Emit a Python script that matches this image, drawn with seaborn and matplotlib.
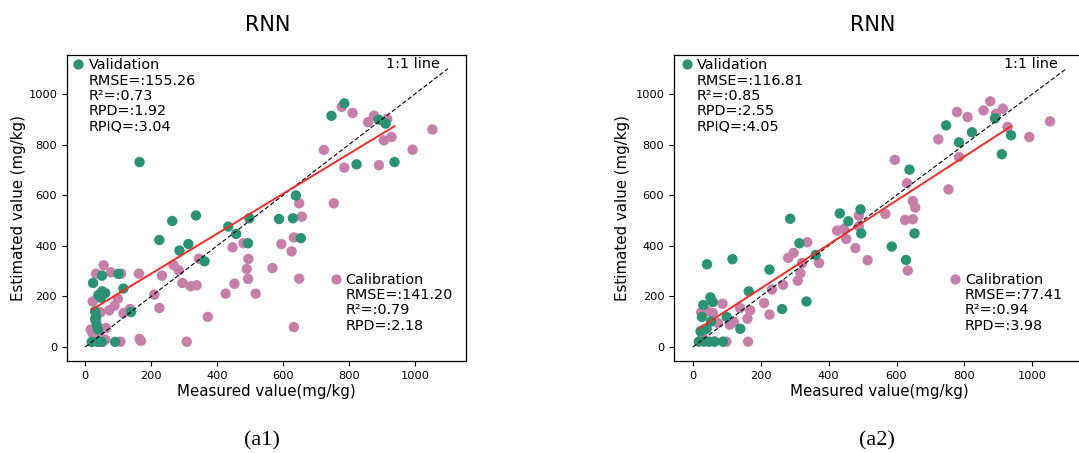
import numpy as np
import matplotlib
matplotlib.use("Agg")
import matplotlib.pyplot as plt
from matplotlib.lines import Line2D
import seaborn as sns

# ---------------- data ----------------
# Panel (a1): RNN
a1_val_measured = [165, 786, 747, 890, 911, 823, 938, 639, 588, 630, 498, 654, 494, 458, 434,
                   336, 264, 225, 313, 286, 362, 116, 101, 139, 24, 51, 43, 61, 52, 48, 40,
                   33, 35, 39, 30, 20, 38, 50, 91, 30]
a1_val_estimated = [731, 963, 914, 899, 883, 722, 731, 599, 506, 509, 509, 430, 410, 447, 476,
                    520, 498, 423, 407, 381, 339, 231, 289, 138, 253, 282, 207, 213, 220, 195, 205,
                    121, 88, 69, 141, 20, 20, 20, 20, 110]
a1_cal_measured = [778, 811, 858, 876, 916, 906, 929, 1053, 993, 891, 786, 724, 754, 649, 657,
                   633, 626, 649, 633, 595, 568, 517, 495, 490, 494, 480, 447, 453, 426, 372,
                   308, 345, 338, 320, 295, 284, 268, 233, 225, 210, 163, 165, 169, 107, 109,
                   78, 56, 33, 23, 99, 89, 73, 46, 116, 136, 17, 22, 61, 63, 43, 53, 33]
a1_cal_estimated = [949, 925, 889, 914, 901, 817, 830, 860, 780, 719, 709, 779, 568, 568, 515,
                    433, 378, 270, 79, 407, 312, 211, 348, 308, 269, 410, 394, 250, 211, 119,
                    21, 349, 244, 240, 253, 303, 324, 282, 154, 207, 290, 32, 24, 21, 290,
                    295, 323, 290, 180, 191, 163, 145, 137, 134, 150, 69, 55, 29, 75, 55, 21, 108]
a1_fit = [0.79, 131.6]          # slope, intercept of the fitted line
a1_val_stats = ["RMSE=:155.26", "R²=:0.73", "RPD=:1.92", "RPIQ=:3.04"]
a1_cal_stats = ["RMSE=:141.20", "R²=:0.79", "RPD=:2.18"]

# Panel (a2): RNN
a2_val_measured = [746, 822, 784, 890, 937, 910, 638, 494, 433, 458, 496, 653, 586, 628, 287,
                   314, 362, 335, 226, 263, 165, 117, 42, 52, 59, 31, 27, 100, 140, 54, 33,
                   23, 41, 18, 33, 48, 64, 89]
a2_val_estimated = [876, 849, 809, 904, 837, 762, 701, 544, 528, 497, 449, 449, 397, 344, 507,
                    410, 364, 180, 306, 150, 220, 347, 327, 196, 178, 166, 119, 119, 72, 101, 69,
                    62, 72, 21, 21, 21, 21, 21]
a2_cal_measured = [876, 856, 913, 893, 778, 809, 927, 1052, 991, 723, 784, 753, 595, 631, 648,
                   655, 625, 648, 633, 567, 515, 489, 479, 452, 425, 445, 489, 337, 372, 322,
                   297, 281, 317, 309, 266, 233, 210, 226, 169, 161, 163, 139, 121, 109, 88,
                   99, 25, 44, 74, 59, 28, 64]
a2_cal_estimated = [971, 935, 942, 922, 929, 909, 870, 892, 830, 821, 751, 623, 740, 647, 577,
                    551, 502, 505, 302, 526, 343, 519, 391, 427, 460, 466, 477, 414, 332, 332,
                    372, 352, 292, 262, 246, 227, 174, 128, 145, 112, 21, 154, 99, 88, 171,
                    21, 137, 141, 95, 134, 49, 22]
a2_fit = [0.87, 57.0]
a2_val_stats = ["RMSE=:116.81", "R²=:0.85", "RPD=:2.55", "RPIQ=:4.05"]
a2_cal_stats = ["RMSE=:77.41", "R²=:0.94", "RPD=:3.98"]

one_to_one = [0, 1100]
ticks = [0, 200, 400, 600, 800, 1000]

GREEN = "#2b9373"
PINK = "#c57fa9"

# ---------------- figure ----------------
fig = plt.figure(figsize=(10.79, 4.53), dpi=100)
plt.rcParams["font.family"] = ["DejaVu Sans"]


def draw_panel(ax, val_x, val_y, cal_x, cal_y, fit, val_stats, cal_stats,
               val_anchor, cal_anchor, ylpad):
    sns.scatterplot(x=cal_x, y=cal_y, color=PINK, s=56, edgecolor="none", ax=ax,
                    legend=False, zorder=2)
    sns.scatterplot(x=val_x, y=val_y, color=GREEN, s=56, edgecolor="none", ax=ax,
                    legend=False, zorder=3)
    ax.plot(one_to_one, one_to_one, ls=(0, (4, 2)), color="black", lw=0.8, zorder=4)
    fx = np.array([min(val_x), max(val_x)])
    ax.plot(fx, fit[0] * fx + fit[1], color="#ec2d27", lw=1.4, zorder=5)

    ax.set_xlim(-55, 1155)
    ax.set_ylim(-55, 1155)
    ax.set_xticks(ticks)
    ax.set_yticks(ticks)
    ax.tick_params(labelsize=8.2, length=3.5, width=0.8)
    ax.set_xlabel("Measured value(mg/kg)", fontsize=10.8, labelpad=2.5)
    ax.set_ylabel("Estimated value (mg/kg)", fontsize=10.8, labelpad=ylpad)
    for sp in ax.spines.values():
        sp.set_linewidth(0.9)

    blank = Line2D([], [], ls="none")
    h_val = [Line2D([], [], marker="o", ls="none", color=GREEN, markersize=7.4,
                    markeredgewidth=0)]
    leg1 = ax.legend(h_val + [blank] * len(val_stats), ["Validation"] + val_stats,
                     loc="upper left", bbox_to_anchor=val_anchor, frameon=False,
                     fontsize=10.4, labelspacing=0.09, handlelength=0.7,
                     handletextpad=0.35, borderpad=0.1, borderaxespad=0.0)
    ax.add_artist(leg1)
    h_cal = [Line2D([], [], marker="o", ls="none", color=PINK, markersize=7.4,
                    markeredgewidth=0)]
    ax.legend(h_cal + [blank] * len(cal_stats), ["Calibration"] + cal_stats,
              loc="lower right", bbox_to_anchor=cal_anchor, frameon=False, fontsize=10.4,
              labelspacing=0.09, handlelength=0.7, handletextpad=0.35, borderpad=0.15,
              borderaxespad=0.0)
    ax.text(1075, 1117, "1:1 line", ha="right", va="center", fontsize=10.4)


ax1 = fig.add_axes([0.0621, 0.2033, 0.3698, 0.6757])
draw_panel(ax1, a1_val_measured, a1_val_estimated, a1_cal_measured, a1_cal_estimated,
           a1_fit, a1_val_stats, a1_cal_stats, (0.0125, 0.993), (0.973, 0.085), 1.3)
ax2 = fig.add_axes([0.6247, 0.2033, 0.3809, 0.6757])
draw_panel(ax2, a2_val_measured, a2_val_estimated, a2_cal_measured, a2_cal_estimated,
           a2_fit, a2_val_stats, a2_cal_stats, (0.0146, 0.993), (0.952, 0.085), 3.5)

fig.text(268 / 1079, 1 - 25 / 453, "RNN", ha="center", va="center", fontsize=15)
fig.text(873 / 1079, 1 - 25 / 453, "RNN", ha="center", va="center", fontsize=15)
fig.text(262 / 1079, 1 - 441 / 453, "(a1)", ha="center", va="center", fontsize=16,
         family="Liberation Serif")
fig.text(877 / 1079, 1 - 441 / 453, "(a2)", ha="center", va="center", fontsize=16,
         family="Liberation Serif")

fig.savefig("out.png", dpi=100)
